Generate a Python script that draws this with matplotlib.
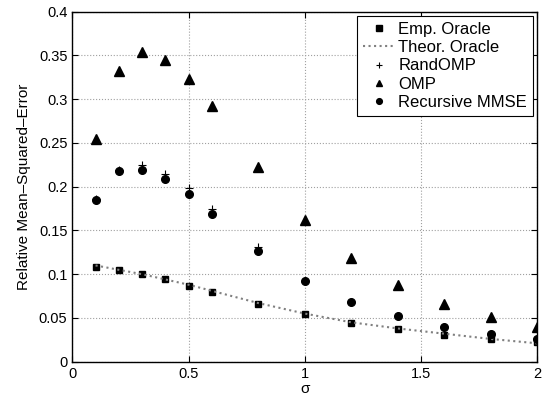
import numpy as np
import matplotlib
matplotlib.use("Agg")
import matplotlib.pyplot as plt

plt.rcParams['font.family'] = ['Liberation Sans', 'DejaVu Sans']

# noise levels
sigma = [0.1, 0.2, 0.3, 0.4, 0.5, 0.6, 0.8, 1.0, 1.2, 1.4, 1.6, 1.8, 2.0]

emp_oracle = [0.108, 0.105, 0.100, 0.094, 0.087, 0.080, 0.066, 0.054,
              0.044, 0.037, 0.030, 0.026, 0.022]
theor_oracle = [0.110, 0.105, 0.100, 0.094, 0.088, 0.081, 0.067, 0.055,
                0.045, 0.038, 0.032, 0.026, 0.021]
rand_omp = [0.186, 0.219, 0.225, 0.215, 0.198, 0.175, 0.131, 0.092,
            0.068, 0.052, 0.040, 0.032, 0.026]
omp = [0.255, 0.332, 0.354, 0.345, 0.323, 0.292, 0.222, 0.162,
       0.119, 0.088, 0.066, 0.051, 0.040]
rec_mmse = [0.185, 0.218, 0.219, 0.209, 0.192, 0.169, 0.127, 0.092,
            0.068, 0.052, 0.040, 0.032, 0.026]

fig = plt.figure(figsize=(5.5, 4), dpi=100)
ax = fig.add_axes([0.1315, 0.0958, 0.845, 0.875])

ax.plot(sigma, emp_oracle, 's', color='k', markersize=5, label='Emp. Oracle')
ax.plot(sigma, theor_oracle, ':', color='#808080', linewidth=1.5, label='Theor. Oracle')
ax.plot(sigma, rand_omp, '+', color='k', markersize=5.5, markeredgewidth=0.8, label='RandOMP')
ax.plot(sigma, omp, '^', color='k', markersize=6.5, label='OMP')
ax.plot(sigma, rec_mmse, 'o', color='k', markersize=5.5, label='Recursive MMSE')

ax.set_xlim(0, 2)
ax.set_ylim(0, 0.4)
ax.set_xticks([0, 0.5, 1, 1.5, 2])
ax.set_xticklabels(['0', '0.5', '1', '1.5', '2'])
ax.set_yticks(np.arange(0, 0.401, 0.05))
ax.set_yticklabels(['0', '0.05', '0.1', '0.15', '0.2', '0.25', '0.3', '0.35', '0.4'])
ax.tick_params(direction='in', top=True, right=True, labelsize=10.5, length=4)
ax.grid(True, linestyle=':', color='#a0a0a0', linewidth=0.8)
for s in ax.spines.values():
    s.set_linewidth(1.0)

ax.set_xlabel('σ', fontsize=11, labelpad=1)
ax.set_ylabel('Relative Mean\u2013Squared\u2013Error', fontsize=11, labelpad=6)

leg = ax.legend(loc='upper right', fontsize=12, fancybox=False, framealpha=1,
                edgecolor='k', borderaxespad=0.25, handlelength=1.9,
                handletextpad=0.2, labelspacing=0.2, borderpad=0.35,
                markerscale=0.75)
leg.get_frame().set_linewidth(0.8)

fig.savefig('out.png', dpi=100)
